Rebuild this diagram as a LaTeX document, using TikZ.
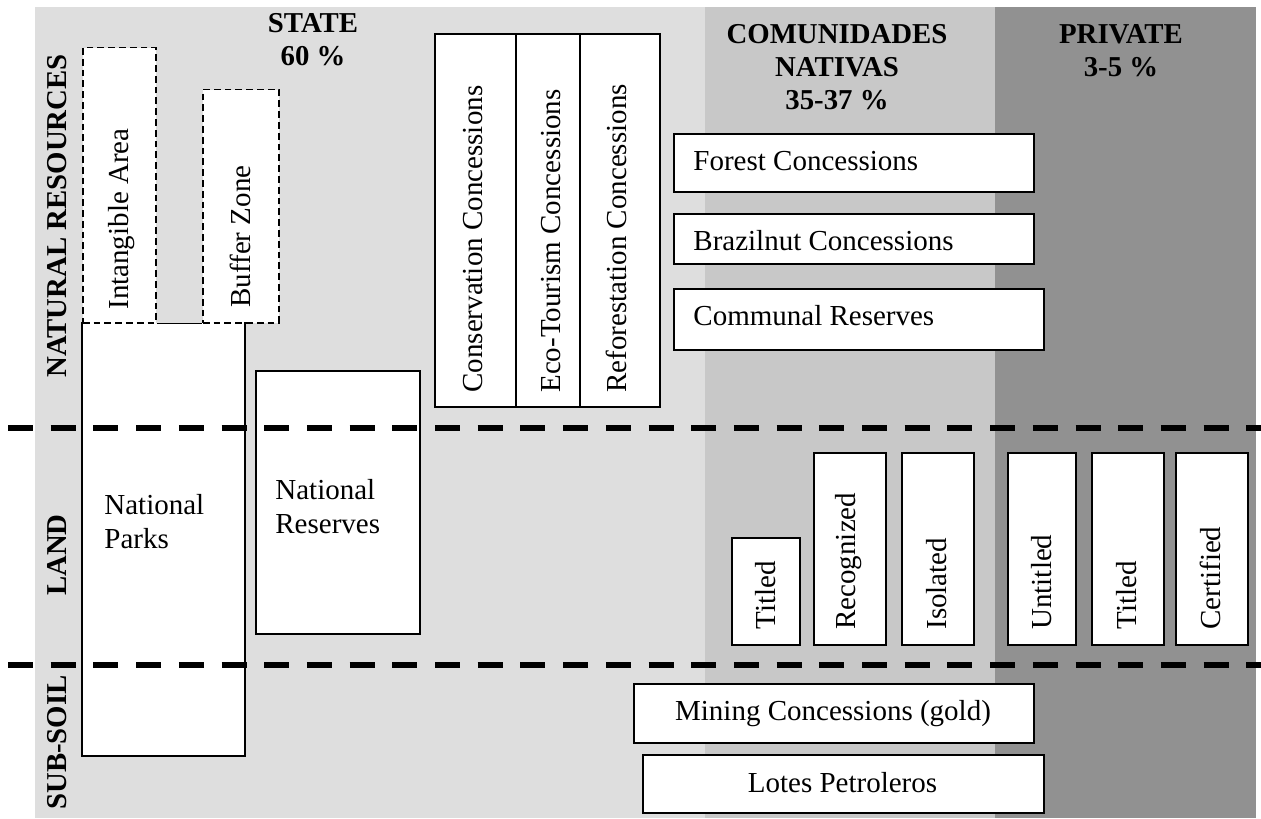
\documentclass[tikz,border=0pt]{standalone}
\usepackage{fontspec}
\setmainfont{Liberation Serif}
\definecolor{bandA}{HTML}{DEDEDE}
\definecolor{bandB}{HTML}{C8C8C8}
\definecolor{bandC}{HTML}{919191}
\begin{document}
\begin{tikzpicture}[x=0.5pt,y=-0.5pt,
  box/.style={draw, fill=white, line width=0.9pt, inner sep=0pt, anchor=north west},
  dbox/.style={box, line width=0.75pt, dash pattern=on 3.4pt off 2pt},
  txt/.style={font=\fontsize{14.5pt}{17pt}\selectfont, inner sep=0pt},
  vtxt/.style={txt, rotate=90, anchor=west},
  head/.style={font=\fontsize{14.4pt}{16.5pt}\selectfont\bfseries, inner sep=0pt, align=center, anchor=north},
  rowlab/.style={font=\fontsize{14.4pt}{16.5pt}\selectfont\bfseries, inner sep=0pt, rotate=90},
  sep/.style={line width=2.6pt, dash pattern=on 12.5pt off 8.85pt}
]
\useasboundingbox (0,0) rectangle (1261,818);
% bands
\fill[bandA] (35,7) rectangle (705,818);
\fill[bandB] (705,7) rectangle (995,818);
\fill[bandC] (995,7) rectangle (1256,818);

% headers
\node[head] (hstate) at (313,13) {STATE\\60 \%};
\node[head] (hcom) at (837,24) {COMUNIDADES\\NATIVAS\\35-37 \%};
\node[head] (hpriv) at (1121,24) {PRIVATE\\3-5 \%};

% row labels
\node[rowlab] (lnat) at (57.5,216) {NATURAL RESOURCES};
\node[rowlab] (lland) at (57.5,555) {LAND};
\node[rowlab] (lsub) at (57.5,742.5) {SUB-SOIL};

% National parks (outline drawn separately)
\node[box, draw=none, minimum width=80.5pt, minimum height=216pt] (parks) at (82,322) {};
\node[box, minimum width=82pt, minimum height=131.5pt] (reserves) at (255,370) {};

% state concessions
\node[box, minimum width=40.5pt, minimum height=186.5pt] (cons) at (434,33) {};
\node[box, minimum width=32pt, minimum height=186.5pt] (eco) at (515,33) {};
\node[box, minimum width=40pt, minimum height=186.5pt] (refo) at (579,33) {};

% comunidades natural resources
\node[box, minimum width=180pt, minimum height=29pt] (forest) at (673,133) {};
\node[box, minimum width=180pt, minimum height=25pt] (brazil) at (673,213) {};
\node[box, minimum width=185pt, minimum height=30.5pt] (communal) at (673,288) {};

% land
\node[box, minimum width=34pt, minimum height=53.5pt] (titledA) at (731,537) {};
\node[box, minimum width=36pt, minimum height=96pt] (recog) at (813,452) {};
\node[box, minimum width=36pt, minimum height=96pt] (isol) at (901,452) {};
\node[box, minimum width=34pt, minimum height=96pt] (untit) at (1007,452) {};
\node[box, minimum width=36pt, minimum height=96pt] (titledB) at (1091,452) {};
\node[box, minimum width=36pt, minimum height=96pt] (certif) at (1175,452) {};

% sub-soil
\node[box, minimum width=200pt, minimum height=29.5pt] (mining) at (633,683) {};
\node[box, minimum width=200.5pt, minimum height=29pt] (lotes) at (642,754) {};

% dashed boxes
\node[dbox, minimum width=36.5pt, minimum height=137.5pt] (intang) at (82,47) {};
\node[dbox, minimum width=38pt, minimum height=116.5pt] (buffer) at (202,89) {};

% parks outline
\draw[line width=0.9pt] (parks.north west) -- (parks.south west) -- (parks.south east) -- (parks.north east);
\draw[line width=0.9pt] (intang.south east) -- (buffer.south west);

% texts
\node[vtxt] (tintang) at (122,310) {Intangible Area};
\node[vtxt] (tbuffer) at (240,308) {Buffer Zone};
\node[vtxt] (tcons) at (473,393) {Conservation Concessions};
\node[vtxt] (teco) at (551,393) {Eco-Tourism Concessions};
\node[vtxt] (trefo) at (616,393) {Reforestation Concessions};
\node[txt, align=left, anchor=north west] (tparks) at (104,493.5) {National\\Parks};
\node[txt, align=left, anchor=north west] (treserves) at (275,478.5) {National\\Reserves};
\node[txt, anchor=base west] (tforest) at (693,170) {Forest Concessions};
\node[txt, anchor=base west] (tbrazil) at (693,250) {Brazilnut Concessions};
\node[txt, anchor=base west] (tcommunal) at (693,325) {Communal Reserves};
\node[vtxt] (ttitledA) at (766,630) {Titled};
\node[vtxt] (trecog) at (849,630) {Recognized};
\node[vtxt] (tisol) at (937,630) {Isolated};
\node[vtxt] (tuntit) at (1042,630) {Untitled};
\node[vtxt] (ttitledB) at (1127,630) {Titled};
\node[vtxt] (tcertif) at (1210,630) {Certified};
\node[txt, anchor=base] (tmining) at (833,720) {Mining Concessions (gold)};
\node[txt, anchor=base] (tlotes) at (842.5,792) {Lotes Petroleros};

% separators
\coordinate (s1a) at (8,428);
\coordinate (s1b) at (1261,428);
\coordinate (s2a) at (8,665);
\coordinate (s2b) at (1261,665);
\draw[sep] (s1a) -- (s1b);
\draw[sep] (s2a) -- (s2b);
\end{tikzpicture}
\end{document}
